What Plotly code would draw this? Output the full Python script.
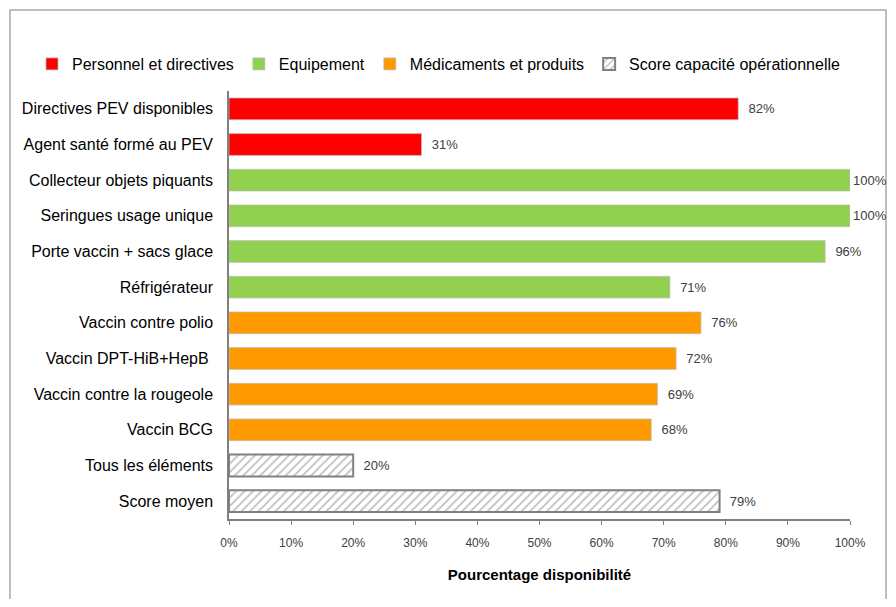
import plotly.graph_objects as go

categories = [
    "Directives PEV disponibles",
    "Agent santé formé au PEV",
    "Collecteur objets piquants",
    "Seringues usage unique",
    "Porte vaccin + sacs glace",
    "Réfrigérateur",
    "Vaccin contre polio",
    "Vaccin DPT-HiB+HepB ",
    "Vaccin contre la rougeole",
    "Vaccin BCG",
    "Tous les éléments",
    "Score moyen",
]
values = [82, 31, 100, 100, 96, 71, 76, 72, 69, 68, 20, 79]
groups = [
    "Personnel et directives", "Personnel et directives",
    "Equipement", "Equipement", "Equipement", "Equipement",
    "Médicaments et produits", "Médicaments et produits",
    "Médicaments et produits", "Médicaments et produits",
    "Score capacité opérationnelle", "Score capacité opérationnelle",
]
group_order = ["Personnel et directives", "Equipement",
               "Médicaments et produits", "Score capacité opérationnelle"]
group_colors = {
    "Personnel et directives": "#FF0000",
    "Equipement": "#92D050",
    "Médicaments et produits": "#FF9900",
    "Score capacité opérationnelle": "#FFFFFF",
}
x_ticks = list(range(0, 101, 10))

FONT = "Liberation Sans Narrow, Arial Narrow, Liberation Sans, Arial, sans-serif"

fig = go.Figure()
for g in group_order:
    ys = [c for c, gg in zip(categories, groups) if gg == g]
    xs = [v for v, gg in zip(values, groups) if gg == g]
    hatched = g == "Score capacité opérationnelle"
    marker = dict(color=group_colors[g],
                  line=dict(color="#808080" if hatched else "#BFBFBF",
                            width=2 if hatched else 0.7))
    if hatched:
        marker["pattern"] = dict(shape="/", fgcolor="#7F7F7F", bgcolor="#FFFFFF",
                                 size=6, solidity=0.3)
    fig.add_trace(go.Bar(
        x=xs, y=ys, name=g, orientation="h", marker=marker,
        text=[f"{v}%" for v in xs], textposition="outside",
        texttemplate=["%{text}" if v >= 100 else "  %{text}" for v in xs],
        cliponaxis=False,
        textfont=dict(family=FONT, size=13, color="#404040"),
    ))

# page body has an 8px margin: figure coordinates = screen - 8
W, H = 888, 591
L, T = 221, 83
R = W - 842
B = H - 511
pw, ph = W - L - R, H - T - B

fig.update_layout(
    width=W, height=H,
    margin=dict(l=L, r=R, t=T, b=B, autoexpand=False),
    paper_bgcolor="white", plot_bgcolor="white",
    bargap=0.39, barmode="overlay",
    font=dict(family=FONT, color="#000000"),
    showlegend=True,
    legend=dict(orientation="h",
                x=(24 - L) / pw, xanchor="left",
                y=1 + (T - 56) / ph, yanchor="middle",
                font=dict(family=FONT, size=16, color="#000000"),
                traceorder="normal", itemwidth=30,
                bgcolor="rgba(0,0,0,0)"),
    xaxis=dict(range=[0, 100], tickvals=x_ticks,
               ticktext=[f"{t}%" for t in x_ticks],
               showgrid=False, zeroline=False, automargin=False,
               showline=True, linecolor="#808080", linewidth=1.5,
               ticks="outside", ticklen=4, tickcolor="#808080",
               ticklabelstandoff=8,
               tickfont=dict(family=FONT, size=12, color="#404040"),
               title=dict(text="<b>Pourcentage disponibilité</b>",
                          font=dict(family=FONT, size=15, color="#000000"),
                          standoff=20)),
    yaxis=dict(categoryorder="array", categoryarray=categories,
               autorange="reversed", showgrid=False, automargin=False,
               showline=True, linecolor="#808080", linewidth=1.5,
               ticks="", ticklabelstandoff=11,
               tickfont=dict(family=FONT, size=16, color="#000000")),
    shapes=[dict(type="rect", xref="paper", yref="paper",
                 x0=(2 - L) / pw, x1=(878 - L) / pw,
                 y0=-1, y1=1 + (T - 2) / ph,
                 line=dict(color="#BFBFBF", width=2), fillcolor="rgba(0,0,0,0)",
                 layer="below")],
)

fig.write_html("out.html")
